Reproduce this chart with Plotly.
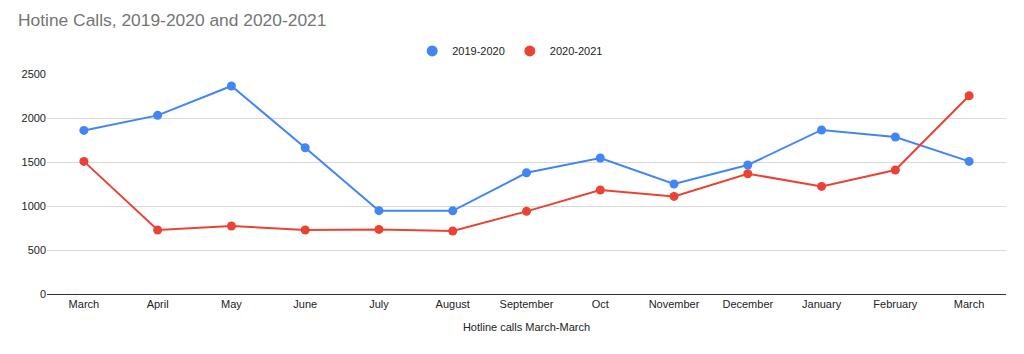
import plotly.graph_objects as go

months = ["March", "April", "May", "June", "July", "August", "September",
          "Oct", "November", "December", "January", "February", "March"]
calls_2019_2020 = [1859, 2030, 2364, 1662, 947, 945, 1378, 1545, 1250, 1466, 1864, 1784, 1507]
calls_2020_2021 = [1507, 727, 773, 727, 734, 716, 939, 1182, 1109, 1367, 1223, 1409, 2253]
series_names = ["2019-2020", "2020-2021"]
series_colors = ["#4285F4", "#EA4335"]

x_idx = list(range(len(months)))

fig = go.Figure()
for name, vals, col in zip(series_names, [calls_2019_2020, calls_2020_2021], series_colors):
    fig.add_trace(go.Scatter(
        x=x_idx, y=vals, name=name, mode="lines+markers", showlegend=False,
        line=dict(color=col, width=2), marker=dict(size=9, color=col)))
# legend entries: dots only
for name, col in zip(series_names, series_colors):
    fig.add_trace(go.Scatter(
        x=[None], y=[None], name=name, mode="markers",
        marker=dict(size=11, color=col), showlegend=True))

fig.update_layout(
    width=1024, height=354,
    margin=dict(l=47, r=18, t=74, b=60),
    paper_bgcolor="white", plot_bgcolor="white",
    font=dict(family="Liberation Sans, Arial, sans-serif", size=11, color="#222222"),
    title=dict(text="Hotine Calls, 2019-2020 and 2020-2021",
               x=18/1024, xanchor="left", y=1-20/354, yanchor="middle",
               font=dict(size=17.4, color="#757575")),
    legend=dict(orientation="h", x=0.483, xanchor="center", y=1.105, yanchor="middle",
                font=dict(size=11, color="#222222"), itemwidth=30, tracegroupgap=0),
    showlegend=True,
)
fig.update_xaxes(
    tickmode="array", tickvals=x_idx, ticktext=months,
    range=[-0.5, len(months) - 0.5], showgrid=False, zeroline=False,
    showline=True, linecolor="#333333", linewidth=1,
    ticks="", tickfont=dict(size=11, color="#222222"),
    title=dict(text="Hotline calls March-March", font=dict(size=11, color="#222222"), standoff=14),
)
fig.update_yaxes(
    range=[0, 2500], tickvals=[0, 500, 1000, 1500, 2000, 2500],
    showgrid=True, gridcolor="#d9d9d9", gridwidth=1, zeroline=False,
    showline=False, ticks="", tickfont=dict(size=11, color="#222222"),
)

fig.write_html("out.html")
